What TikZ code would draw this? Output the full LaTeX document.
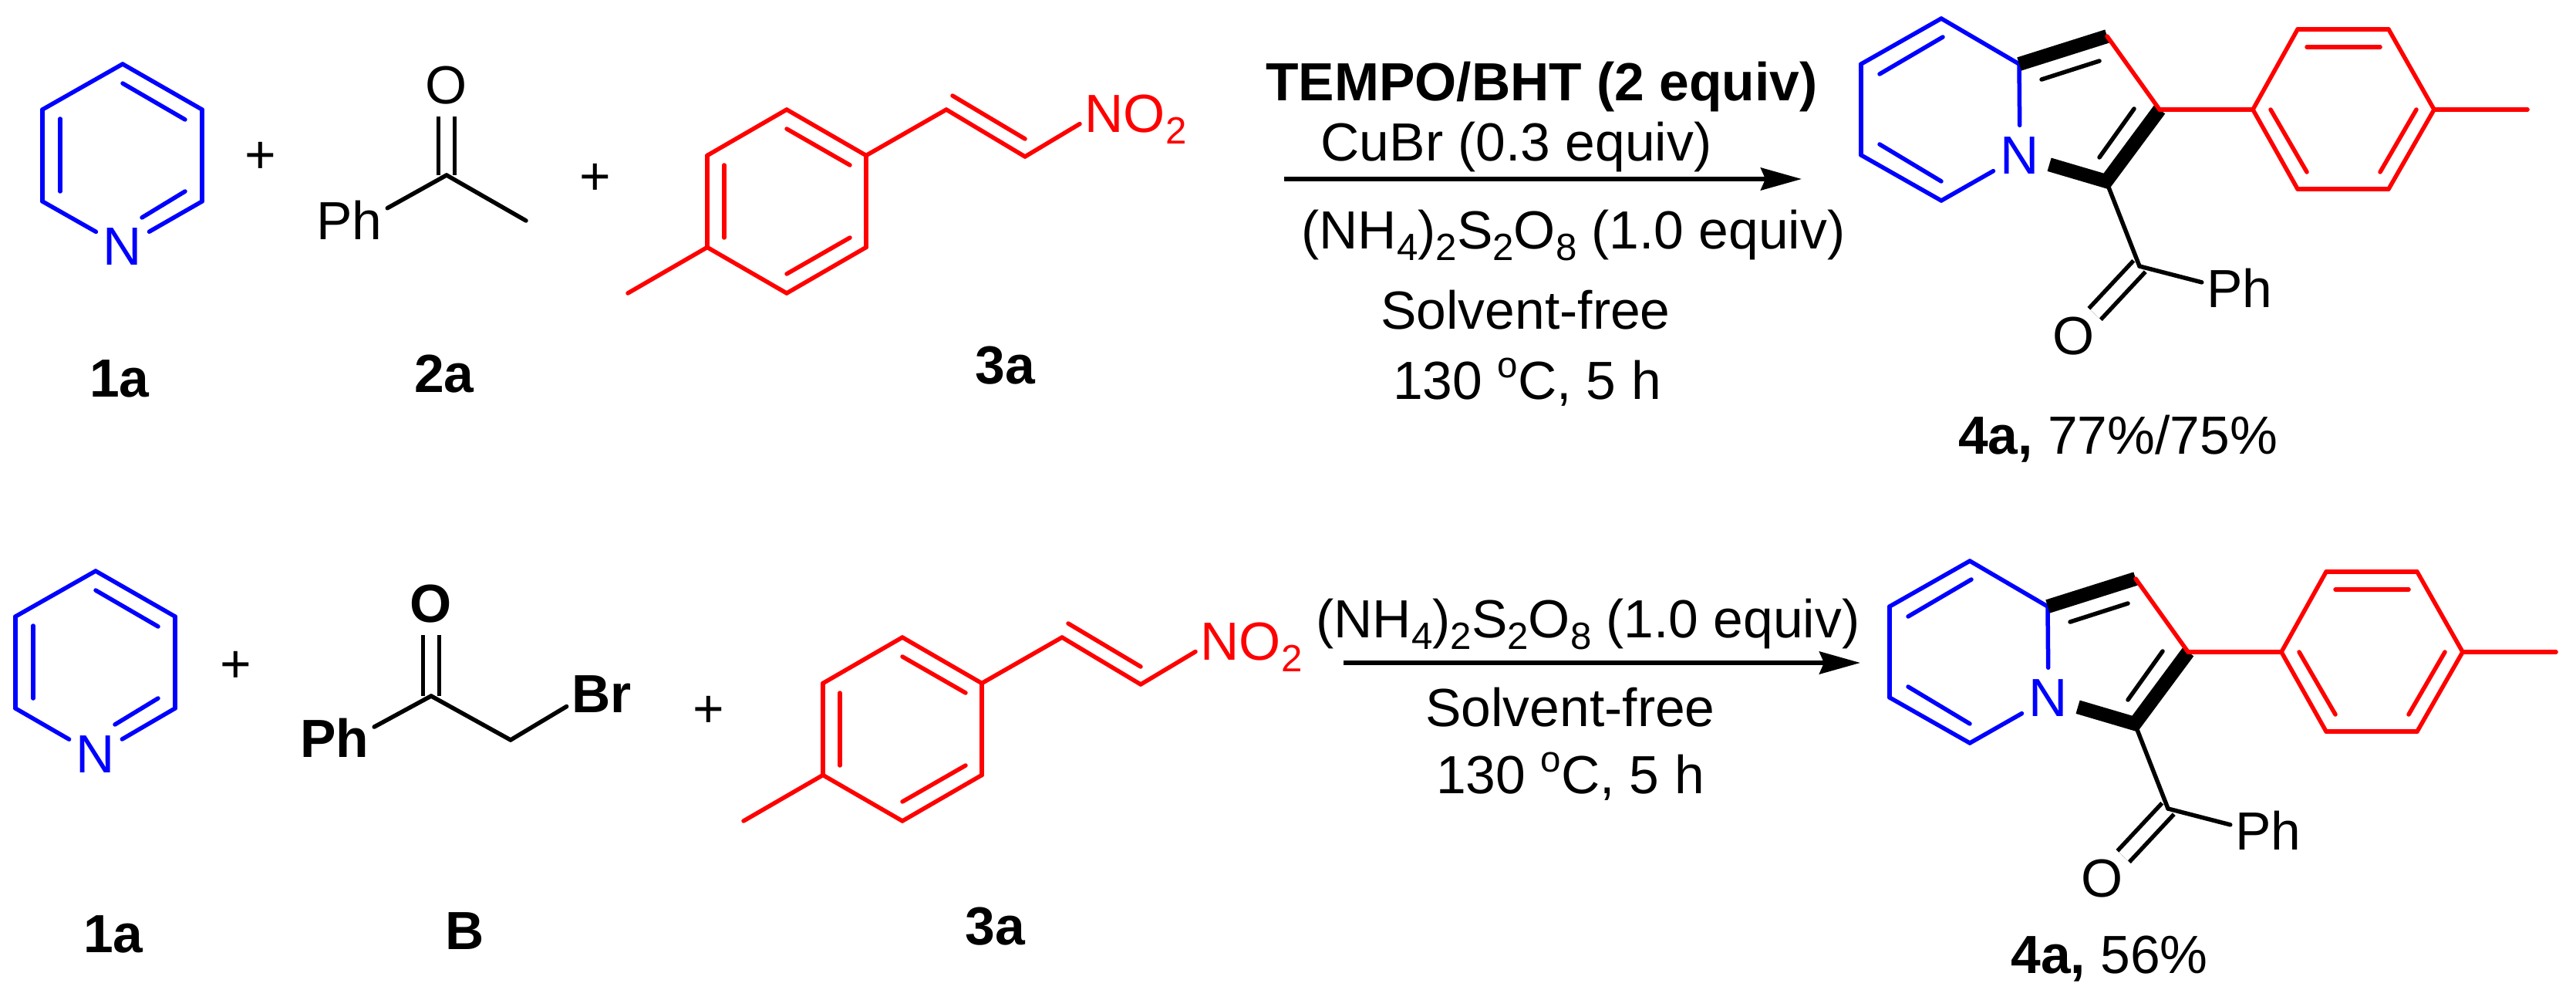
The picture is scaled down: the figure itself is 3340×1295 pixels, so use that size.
\documentclass[tikz,border=0pt]{standalone}
\usepackage{fontspec}
\setmainfont{Liberation Sans}
\usetikzlibrary{arrows.meta}
\newcommand{\lowsub}[1]{\raisebox{-1.5mm}{\fontsize{14}{17}\selectfont #1}}
\newcommand{\highsup}[1]{\raisebox{2.8mm}{\fontsize{13.5}{16}\selectfont #1}}
\tikzset{
  lbl/.style={font=\fontsize{19.8}{23}\selectfont, anchor=base, inner sep=0.6mm},
  lblb/.style={lbl, font=\fontsize{19.8}{23}\selectfont\bfseries},
  atom/.style={circle, minimum size=7.8mm, inner sep=0pt, font=\fontsize{19.8}{23}\selectfont},
  bond/.style={line width=0.55mm, line cap=round},
  dblbond/.style={line width=0.55mm, double, double distance=1.55mm},
  wedge/.style={line width=1.8mm, line join=miter},
  rxn/.style={line width=0.57mm, -{Stealth[length=5.3mm,width=2.9mm,inset=0.6mm]}}
}
\begin{document}
\begin{tikzpicture}[x=0.1mm,y=-0.1mm]
\useasboundingbox (0,0) rectangle (3340,1295);
\coordinate (pa0) at (159,83);
\coordinate (pa1) at (262,142);
\coordinate (pa2) at (262,261);
\coordinate (pa3) at (55,261);
\coordinate (pa4) at (55,142);
\coordinate (pa5) at (159,108);
\coordinate (pa6) at (240,155);
\coordinate (pa7) at (240,248);
\coordinate (pa8) at (184,282);
\coordinate (pa9) at (78,154);
\coordinate (pa10) at (78,248);
\node[atom, blue] (pan) at (159,320) {N};
\draw[bond, blue] (pa0) -- (pa1);
\draw[bond, blue] (pa1) -- (pa2);
\draw[bond, blue] (pa2) -- (pan);
\draw[bond, blue] (pan) -- (pa3);
\draw[bond, blue] (pa3) -- (pa4);
\draw[bond, blue] (pa4) -- (pa0);
\draw[bond, blue] (pa5) -- (pa6);
\draw[bond, blue] (pa7) -- (pa8);
\draw[bond, blue] (pa9) -- (pa10);
\node[lbl] (plusa) at (338,224) {+};
\node[atom] (kao) at (579,111) {O};
\coordinate (kac) at (579,227);
\coordinate (kam) at (682,286);
\node[lbl] (kaph) at (453,310) {Ph};
\draw[dblbond] (kao) -- (kac);
\draw[bond] (kac) -- (kam);
\draw[bond] (kac) -- (kaph.17);
\node[lbl] (plusb) at (772,252) {+};
\coordinate (na0) at (1020,142);
\coordinate (na1) at (1123,201.5);
\coordinate (na2) at (1123,320.5);
\coordinate (na3) at (1020,380);
\coordinate (na4) at (917,320.5);
\coordinate (na5) at (917,201.5);
\coordinate (na6) at (1020,167);
\coordinate (na7) at (1102,214);
\coordinate (na8) at (1102,308);
\coordinate (na9) at (1020,355);
\coordinate (na10) at (939,308);
\coordinate (na11) at (939,214);
\coordinate (nam) at (814,380);
\coordinate (nav1) at (1227,142);
\coordinate (nav2) at (1329,203);
\coordinate (nav3) at (1235,124);
\coordinate (nav4) at (1329,180);
\node[lbl, anchor=base west, text=red] (nano) at (1400,171) {NO\lowsub{2}};
\draw[bond, red] (na0) -- (na1);
\draw[bond, red] (na1) -- (na2);
\draw[bond, red] (na2) -- (na3);
\draw[bond, red] (na3) -- (na4);
\draw[bond, red] (na4) -- (na5);
\draw[bond, red] (na5) -- (na0);
\draw[bond, red] (na6) -- (na7);
\draw[bond, red] (na8) -- (na9);
\draw[bond, red] (na10) -- (na11);
\draw[bond, red] (na4) -- (nam);
\draw[bond, red] (na1) -- (nav1);
\draw[bond, red] (nav1) -- (nav2);
\draw[bond, red] (nav3) -- (nav4);
\draw[bond, red] (nav2) -- (nano.185);
\node[lblb] (la1) at (155,514) {1a};
\node[lblb] (la2) at (576,508) {2a};
\node[lblb] (la3) at (1303,497) {3a};
\node[lblb] (lat) at (1999,131) {TEMPO/BHT (2 equiv)};
\node[lbl] (lac) at (1966,209) {CuBr (0.3 equiv)};
\coordinate (arra) at (1665,232);
\coordinate (arrb) at (2336,232);
\draw[rxn] (arra) -- (arrb);
\node[lbl] (lan) at (2040,322) {(NH\lowsub{4})\lowsub{2}S\lowsub{2}O\lowsub{8} (1.0 equiv)};
\node[lbl] (las) at (1978,426) {Solvent-free};
\node[lbl] (lao) at (1980,517) {130 \highsup{o}C, 5 h};
\coordinate (qa0) at (2517,24);
\coordinate (qa1) at (2413,83);
\coordinate (qa2) at (2413,201);
\coordinate (qa3) at (2517,260);
\coordinate (qa4) at (2618,83);
\coordinate (qa5) at (2519,48);
\coordinate (qa6) at (2437,96);
\coordinate (qa7) at (2437,187);
\coordinate (qa8) at (2517,235);
\coordinate (qa9) at (2732,47);
\coordinate (qa10) at (2800,142);
\coordinate (qa11) at (2731,235);
\coordinate (qa12) at (2647,103);
\coordinate (qa13) at (2722,79);
\coordinate (qa14) at (2767,141);
\coordinate (qa15) at (2722,204);
\node[atom, blue] (qan) at (2619,202) {N};
\draw[bond, blue] (qa0) -- (qa1);
\draw[bond, blue] (qa1) -- (qa2);
\draw[bond, blue] (qa2) -- (qa3);
\draw[bond, blue] (qa3) -- (qan);
\draw[bond, blue] (qan) -- (qa4);
\draw[bond, blue] (qa4) -- (qa0);
\draw[bond, blue] (qa5) -- (qa6);
\draw[bond, blue] (qa7) -- (qa8);
\draw[wedge] (qa4) -- (qa9);
\draw[wedge] (qan) -- (qa11) -- (qa10);
\draw[bond] (qa12) -- (qa13);
\draw[bond] (qa14) -- (qa15);
\draw[bond, red] (qa9) -- (qa10);
\coordinate (ra0) at (2921,142);
\coordinate (ra1) at (2979,38);
\coordinate (ra2) at (3097,38);
\coordinate (ra3) at (3156,142);
\coordinate (ra4) at (3097,245);
\coordinate (ra5) at (2979,245);
\coordinate (ra6) at (2991,61);
\coordinate (ra7) at (3086,61);
\coordinate (ra8) at (2944,142);
\coordinate (ra9) at (2991,223);
\coordinate (ra10) at (3133,142);
\coordinate (ra11) at (3086,223);
\coordinate (ram) at (3277,142);
\draw[bond, red] (qa10) -- (ra0);
\draw[bond, red] (ra0) -- (ra1);
\draw[bond, red] (ra1) -- (ra2);
\draw[bond, red] (ra2) -- (ra3);
\draw[bond, red] (ra3) -- (ra4);
\draw[bond, red] (ra4) -- (ra5);
\draw[bond, red] (ra5) -- (ra0);
\draw[bond, red] (ra6) -- (ra7);
\draw[bond, red] (ra8) -- (ra9);
\draw[bond, red] (ra10) -- (ra11);
\draw[bond, red] (ra3) -- (ram);
\coordinate (sac) at (2774,345);
\node[atom] (sao) at (2689,436) {O};
\node[lbl] (saph) at (2904,398) {Ph};
\draw[dblbond] (sao) -- (sac);
\draw[bond] (qa11) -- (sac);
\draw[bond] (sac) -- (saph.172);
\node[lbl] (lay) at (2746,588) {{\bfseries 4a,} 77\%/75\%};
\coordinate (pb0) at (124,740);
\coordinate (pb1) at (227,799);
\coordinate (pb2) at (227,918);
\coordinate (pb3) at (20,918);
\coordinate (pb4) at (20,799);
\coordinate (pb5) at (124,765);
\coordinate (pb6) at (205,812);
\coordinate (pb7) at (205,905);
\coordinate (pb8) at (149,939);
\coordinate (pb9) at (43,811);
\coordinate (pb10) at (43,905);
\node[atom, blue] (pbn) at (124,978) {N};
\draw[bond, blue] (pb0) -- (pb1);
\draw[bond, blue] (pb1) -- (pb2);
\draw[bond, blue] (pb2) -- (pbn);
\draw[bond, blue] (pbn) -- (pb3);
\draw[bond, blue] (pb3) -- (pb4);
\draw[bond, blue] (pb4) -- (pb0);
\draw[bond, blue] (pb5) -- (pb6);
\draw[bond, blue] (pb7) -- (pb8);
\draw[bond, blue] (pb9) -- (pb10);
\node[lbl] (plusc) at (306,884) {+};
\node[atom, font=\fontsize{19.8}{23}\selectfont\bfseries] (kbo) at (559,783) {O};
\coordinate (kbc) at (559,902);
\coordinate (kbm) at (662,959);
\node[lblb] (kbph) at (434,981) {Ph};
\node[lblb] (kbbr) at (780,923) {Br};
\draw[dblbond] (kbo) -- (kbc);
\draw[bond] (kbc) -- (kbm);
\draw[bond] (kbc) -- (kbph.15);
\draw[bond] (kbm) -- (kbbr.200);
\node[lbl] (plusd) at (919,942) {+};
\coordinate (nb0) at (1170,826);
\coordinate (nb1) at (1273,885.5);
\coordinate (nb2) at (1273,1004.5);
\coordinate (nb3) at (1170,1064);
\coordinate (nb4) at (1067,1004.5);
\coordinate (nb5) at (1067,885.5);
\coordinate (nb6) at (1170,851);
\coordinate (nb7) at (1252,898);
\coordinate (nb8) at (1252,992);
\coordinate (nb9) at (1170,1039);
\coordinate (nb10) at (1089,992);
\coordinate (nb11) at (1089,898);
\coordinate (nbm) at (964,1064);
\coordinate (nbv1) at (1377,826);
\coordinate (nbv2) at (1479,887);
\coordinate (nbv3) at (1385,808);
\coordinate (nbv4) at (1479,864);
\node[lbl, anchor=base west, text=red] (nbno) at (1550,855) {NO\lowsub{2}};
\draw[bond, red] (nb0) -- (nb1);
\draw[bond, red] (nb1) -- (nb2);
\draw[bond, red] (nb2) -- (nb3);
\draw[bond, red] (nb3) -- (nb4);
\draw[bond, red] (nb4) -- (nb5);
\draw[bond, red] (nb5) -- (nb0);
\draw[bond, red] (nb6) -- (nb7);
\draw[bond, red] (nb8) -- (nb9);
\draw[bond, red] (nb10) -- (nb11);
\draw[bond, red] (nb4) -- (nbm);
\draw[bond, red] (nb1) -- (nbv1);
\draw[bond, red] (nbv1) -- (nbv2);
\draw[bond, red] (nbv3) -- (nbv4);
\draw[bond, red] (nbv2) -- (nbno.185);
\node[lblb] (lb1) at (147,1234) {1a};
\node[lblb] (lb2) at (603,1230) {B};
\node[lblb] (lb3) at (1290,1224) {3a};
\node[lbl] (lbn) at (2059,826) {(NH\lowsub{4})\lowsub{2}S\lowsub{2}O\lowsub{8} (1.0 equiv)};
\coordinate (arrc) at (1742,859);
\coordinate (arrd) at (2412,859);
\draw[rxn] (arrc) -- (arrd);
\node[lbl] (lbs) at (2036,941) {Solvent-free};
\node[lbl] (lbo) at (2036,1028) {130 \highsup{o}C, 5 h};
\coordinate (qb0) at (2554,727);
\coordinate (qb1) at (2450,786);
\coordinate (qb2) at (2450,904);
\coordinate (qb3) at (2554,963);
\coordinate (qb4) at (2655,786);
\coordinate (qb5) at (2556,751);
\coordinate (qb6) at (2474,799);
\coordinate (qb7) at (2474,890);
\coordinate (qb8) at (2554,938);
\coordinate (qb9) at (2769,750);
\coordinate (qb10) at (2837,845);
\coordinate (qb11) at (2768,938);
\coordinate (qb12) at (2684,806);
\coordinate (qb13) at (2759,782);
\coordinate (qb14) at (2804,844);
\coordinate (qb15) at (2759,907);
\node[atom, blue] (qbn) at (2656,905) {N};
\draw[bond, blue] (qb0) -- (qb1);
\draw[bond, blue] (qb1) -- (qb2);
\draw[bond, blue] (qb2) -- (qb3);
\draw[bond, blue] (qb3) -- (qbn);
\draw[bond, blue] (qbn) -- (qb4);
\draw[bond, blue] (qb4) -- (qb0);
\draw[bond, blue] (qb5) -- (qb6);
\draw[bond, blue] (qb7) -- (qb8);
\draw[wedge] (qb4) -- (qb9);
\draw[wedge] (qbn) -- (qb11) -- (qb10);
\draw[bond] (qb12) -- (qb13);
\draw[bond] (qb14) -- (qb15);
\draw[bond, red] (qb9) -- (qb10);
\coordinate (rb0) at (2958,845);
\coordinate (rb1) at (3016,741);
\coordinate (rb2) at (3134,741);
\coordinate (rb3) at (3193,845);
\coordinate (rb4) at (3134,948);
\coordinate (rb5) at (3016,948);
\coordinate (rb6) at (3028,764);
\coordinate (rb7) at (3123,764);
\coordinate (rb8) at (2981,845);
\coordinate (rb9) at (3028,926);
\coordinate (rb10) at (3170,845);
\coordinate (rb11) at (3123,926);
\coordinate (rbm) at (3314,845);
\draw[bond, red] (qb10) -- (rb0);
\draw[bond, red] (rb0) -- (rb1);
\draw[bond, red] (rb1) -- (rb2);
\draw[bond, red] (rb2) -- (rb3);
\draw[bond, red] (rb3) -- (rb4);
\draw[bond, red] (rb4) -- (rb5);
\draw[bond, red] (rb5) -- (rb0);
\draw[bond, red] (rb6) -- (rb7);
\draw[bond, red] (rb8) -- (rb9);
\draw[bond, red] (rb10) -- (rb11);
\draw[bond, red] (rb3) -- (rbm);
\coordinate (sbc) at (2811,1048);
\node[atom] (sbo) at (2726,1139) {O};
\node[lbl] (sbph) at (2941,1101) {Ph};
\draw[dblbond] (sbo) -- (sbc);
\draw[bond] (qb11) -- (sbc);
\draw[bond] (sbc) -- (sbph.172);
\node[lbl] (lby) at (2735,1261) {{\bfseries 4a,} 56\%};
\end{tikzpicture}
\end{document}
